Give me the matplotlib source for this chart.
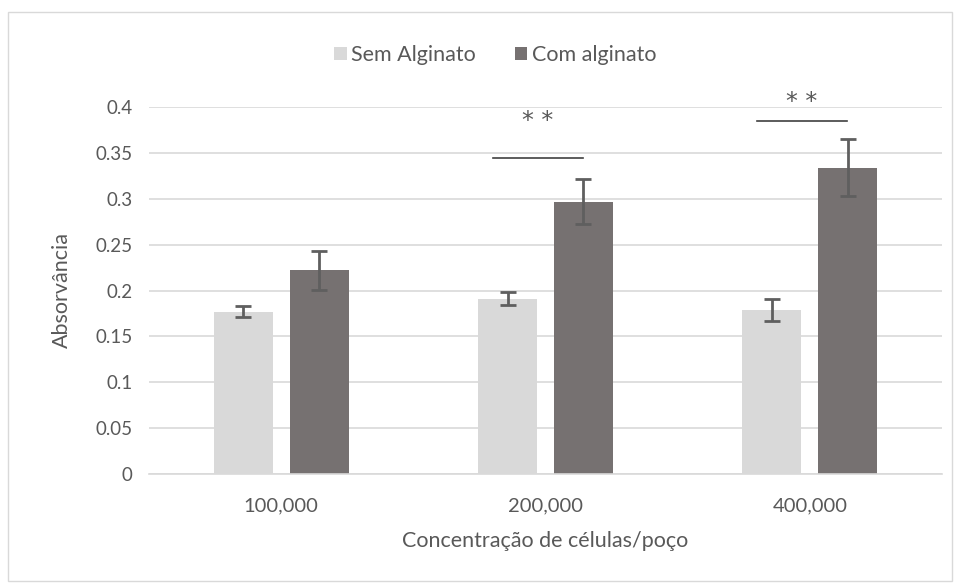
import matplotlib.pyplot as plt
import numpy as np
from matplotlib.patches import Rectangle

plt.rcParams["font.family"] = ["Lato", "DejaVu Sans"]

categories = ["100,000", "200,000", "400,000"]
sem_alginato = [0.177, 0.191, 0.179]
sem_err = [0.006, 0.007, 0.012]
com_alginato = [0.222, 0.297, 0.334]
com_err = [0.021, 0.025, 0.031]

# significance brackets: (category index, line height, star height)
sig_marks = [(1, 0.344, 0.385), (2, 0.385, 0.405)]

TEXT = "#595959"
GRID = "#d9d9d9"

fig = plt.figure(figsize=(9.6, 5.85), dpi=100)
fig.patches.append(
    Rectangle((0.008, 0.006), 0.984, 0.974, transform=fig.transFigure,
              fill=False, edgecolor="#d9d9d9", linewidth=1.0)
)
ax = fig.add_axes([149 / 960, 1 - 474 / 585, (942 - 149) / 960, (474 - 107) / 585])

x = np.arange(len(categories))
width = 0.223
offset = (width + 0.064) / 2

ax.bar(x - offset, sem_alginato, width, color="#d9d9d9", label="Sem Alginato",
       zorder=2)
ax.bar(x + offset, com_alginato, width, color="#767171", label="Com alginato",
       zorder=2)
err_kw = dict(fmt="none", ecolor="#5f5f5f", elinewidth=2, capsize=6,
              capthick=2, zorder=3)
ax.errorbar(x - offset, sem_alginato, yerr=sem_err, **err_kw)
ax.errorbar(x + offset, com_alginato, yerr=com_err, **err_kw)

for i, h, hs in sig_marks:
    ax.plot([i - 0.2, i + 0.14], [h, h], color="#404040", lw=1.2,
            clip_on=False, zorder=4)
    ax.text(i - 0.03, hs, "* *", ha="center", va="center",
            fontsize=17, color=TEXT, family=["DejaVu Sans"], clip_on=False)

ax.set_xlim(-0.5, 2.5)
ax.set_ylim(0, 0.4)
ax.set_yticks(np.arange(0, 0.401, 0.05))
ax.set_yticklabels(["0", "0.05", "0.1", "0.15", "0.2", "0.25", "0.3", "0.35", "0.4"])
ax.set_xticks(x)
ax.set_xticklabels(categories)
ax.yaxis.grid(True, color=GRID, linewidth=1.2, zorder=0)
ax.set_axisbelow(True)
for side in ["top", "right", "left"]:
    ax.spines[side].set_visible(False)
ax.spines["bottom"].set_color(GRID)
ax.spines["bottom"].set_linewidth(1.2)
ax.tick_params(axis="y", length=0, labelsize=13.5, colors=TEXT, pad=12)
ax.tick_params(axis="x", length=0, labelsize=14.5, colors=TEXT, pad=17)

ax.set_ylabel("Absorvância", fontsize=15.5, color=TEXT, labelpad=17)
ax.set_xlabel("Concentração de células/poço", fontsize=15.5, color=TEXT,
              labelpad=12)

ax.legend(loc="center", bbox_to_anchor=(495 / 960, 1 - 55 / 585),
          bbox_transform=fig.transFigure, ncol=2, frameon=False,
          fontsize=15.5, labelcolor=TEXT, handlelength=0.6, handleheight=0.6,
          handletextpad=0.2, columnspacing=1.8)

fig.savefig("out.png", dpi=100)
